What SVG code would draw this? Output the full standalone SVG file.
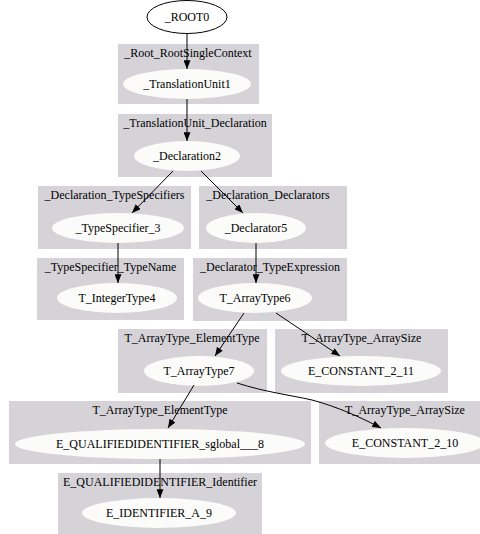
<svg xmlns="http://www.w3.org/2000/svg" width="480" height="534" viewBox="0 0 480 534">
  <style>
    text { font-family: "Liberation Serif", "Times New Roman", serif; font-size: 12px; fill: #000; text-anchor: middle; }
    .cluster { fill: #d5d3d8; stroke: none; }
    .node { fill: #fbfbf9; stroke: none; }
    .root { fill: #fff; stroke: #000; stroke-width: 1; }
    .edge { fill: none; stroke: #000; stroke-width: 1; marker-end: url(#arrow); }
  </style>
  <defs>
    <marker id="arrow" viewBox="0 0 10 8" refX="10" refY="4" markerWidth="9" markerHeight="7" markerUnits="userSpaceOnUse" orient="auto">
      <path d="M0,0 L10,4 L0,8 z" fill="#000"/>
    </marker>
  </defs>
  <rect width="480" height="534" fill="#fff"/>

  <!-- clusters -->
  <g id="clusters">
    <g id="cluster_root_single_context">
      <rect class="cluster" x="118" y="44" width="141" height="60"/>
      <text x="188" y="57">_Root_RootSingleContext</text>
    </g>
    <g id="cluster_tu_declaration">
      <rect class="cluster" x="118" y="114" width="154" height="63"/>
      <text x="195" y="127">_TranslationUnit_Declaration</text>
    </g>
    <g id="cluster_decl_typespecifiers">
      <rect class="cluster" x="38" y="186" width="153" height="63"/>
      <text x="114.5" y="199">_Declaration_TypeSpecifiers</text>
    </g>
    <g id="cluster_decl_declarators">
      <rect class="cluster" x="199" y="186" width="148" height="63"/>
      <text x="268" y="199">_Declaration_Declarators</text>
    </g>
    <g id="cluster_typespec_typename">
      <rect class="cluster" x="37" y="258" width="147" height="62"/>
      <text x="110.5" y="271">_TypeSpecifier_TypeName</text>
    </g>
    <g id="cluster_declarator_typeexpr">
      <rect class="cluster" x="193" y="258" width="154" height="63"/>
      <text x="270" y="271">_Declarator_TypeExpression</text>
    </g>
    <g id="cluster_elementtype_1">
      <rect class="cluster" x="118" y="329" width="149" height="64"/>
      <text x="192" y="342">T_ArrayType_ElementType</text>
    </g>
    <g id="cluster_arraysize_1">
      <rect class="cluster" x="275" y="329" width="173" height="64"/>
      <text x="361.5" y="342">T_ArrayType_ArraySize</text>
    </g>
    <g id="cluster_elementtype_2">
      <rect class="cluster" x="9" y="401" width="302" height="63"/>
      <text x="160" y="414">T_ArrayType_ElementType</text>
    </g>
    <g id="cluster_arraysize_2">
      <rect class="cluster" x="319" y="401" width="172" height="63"/>
      <text x="405" y="414">T_ArrayType_ArraySize</text>
    </g>
    <g id="cluster_qualified_identifier">
      <rect class="cluster" x="58" y="473" width="204" height="61"/>
      <text x="160" y="486">E_QUALIFIEDIDENTIFIER_Identifier</text>
    </g>
  </g>

  <!-- nodes -->
  <g id="ROOT0">
    <ellipse class="root" cx="187" cy="17" rx="40" ry="16.5"/>
    <text x="187" y="21">_ROOT0</text>
  </g>
  <g id="TranslationUnit1">
    <ellipse class="node" cx="187" cy="84" rx="64" ry="15"/>
    <text x="187" y="88">_TranslationUnit1</text>
  </g>
  <g id="Declaration2">
    <ellipse class="node" cx="187" cy="156" rx="53" ry="15"/>
    <text x="187" y="160">_Declaration2</text>
  </g>
  <g id="TypeSpecifier_3">
    <ellipse class="node" cx="118" cy="228" rx="66" ry="15"/>
    <text x="118" y="232">_TypeSpecifier_3</text>
  </g>
  <g id="Declarator5">
    <ellipse class="node" cx="256" cy="228" rx="50" ry="15"/>
    <text x="256" y="232">_Declarator5</text>
  </g>
  <g id="T_IntegerType4">
    <ellipse class="node" cx="117" cy="298" rx="60" ry="15"/>
    <text x="117" y="302">T_IntegerType4</text>
  </g>
  <g id="T_ArrayType6">
    <ellipse class="node" cx="255" cy="298" rx="57" ry="15"/>
    <text x="255" y="302">T_ArrayType6</text>
  </g>
  <g id="T_ArrayType7">
    <ellipse class="node" cx="199" cy="371" rx="55" ry="15"/>
    <text x="199" y="375">T_ArrayType7</text>
  </g>
  <g id="E_CONSTANT_2_11">
    <ellipse class="node" cx="361" cy="371" rx="80" ry="15"/>
    <text x="361" y="375">E_CONSTANT_2_11</text>
  </g>
  <g id="E_QUALIFIEDIDENTIFIER_sglobal___8">
    <ellipse class="node" cx="160" cy="444" rx="145" ry="15"/>
    <text x="160" y="448">E_QUALIFIEDIDENTIFIER_sglobal___8</text>
  </g>
  <g id="E_CONSTANT_2_10">
    <ellipse class="node" cx="405" cy="443" rx="80" ry="15"/>
    <text x="405" y="447">E_CONSTANT_2_10</text>
  </g>
  <g id="E_IDENTIFIER_A_9">
    <ellipse class="node" cx="159" cy="513" rx="77" ry="15"/>
    <text x="159" y="517">E_IDENTIFIER_A_9</text>
  </g>

  <!-- connectors -->
  <g id="edges">
    <path class="edge" d="M187,33.5 L187,69"/>
    <path class="edge" d="M187,99 L187,141"/>
    <path class="edge" d="M173,171 L132,213"/>
    <path class="edge" d="M201,171 L243,213"/>
    <path class="edge" d="M118,243 L118,283"/>
    <path class="edge" d="M256,243 L256,283"/>
    <path class="edge" d="M244,313 L215,356"/>
    <path class="edge" d="M276,313 L340,356"/>
    <path class="edge" d="M194,385 L168,428"/>
    <path class="edge" d="M237,383 C265,392 290,395 312,400 C338,407 360,417 381,428"/>
    <path class="edge" d="M160,459 L160,498"/>
  </g>
</svg>
